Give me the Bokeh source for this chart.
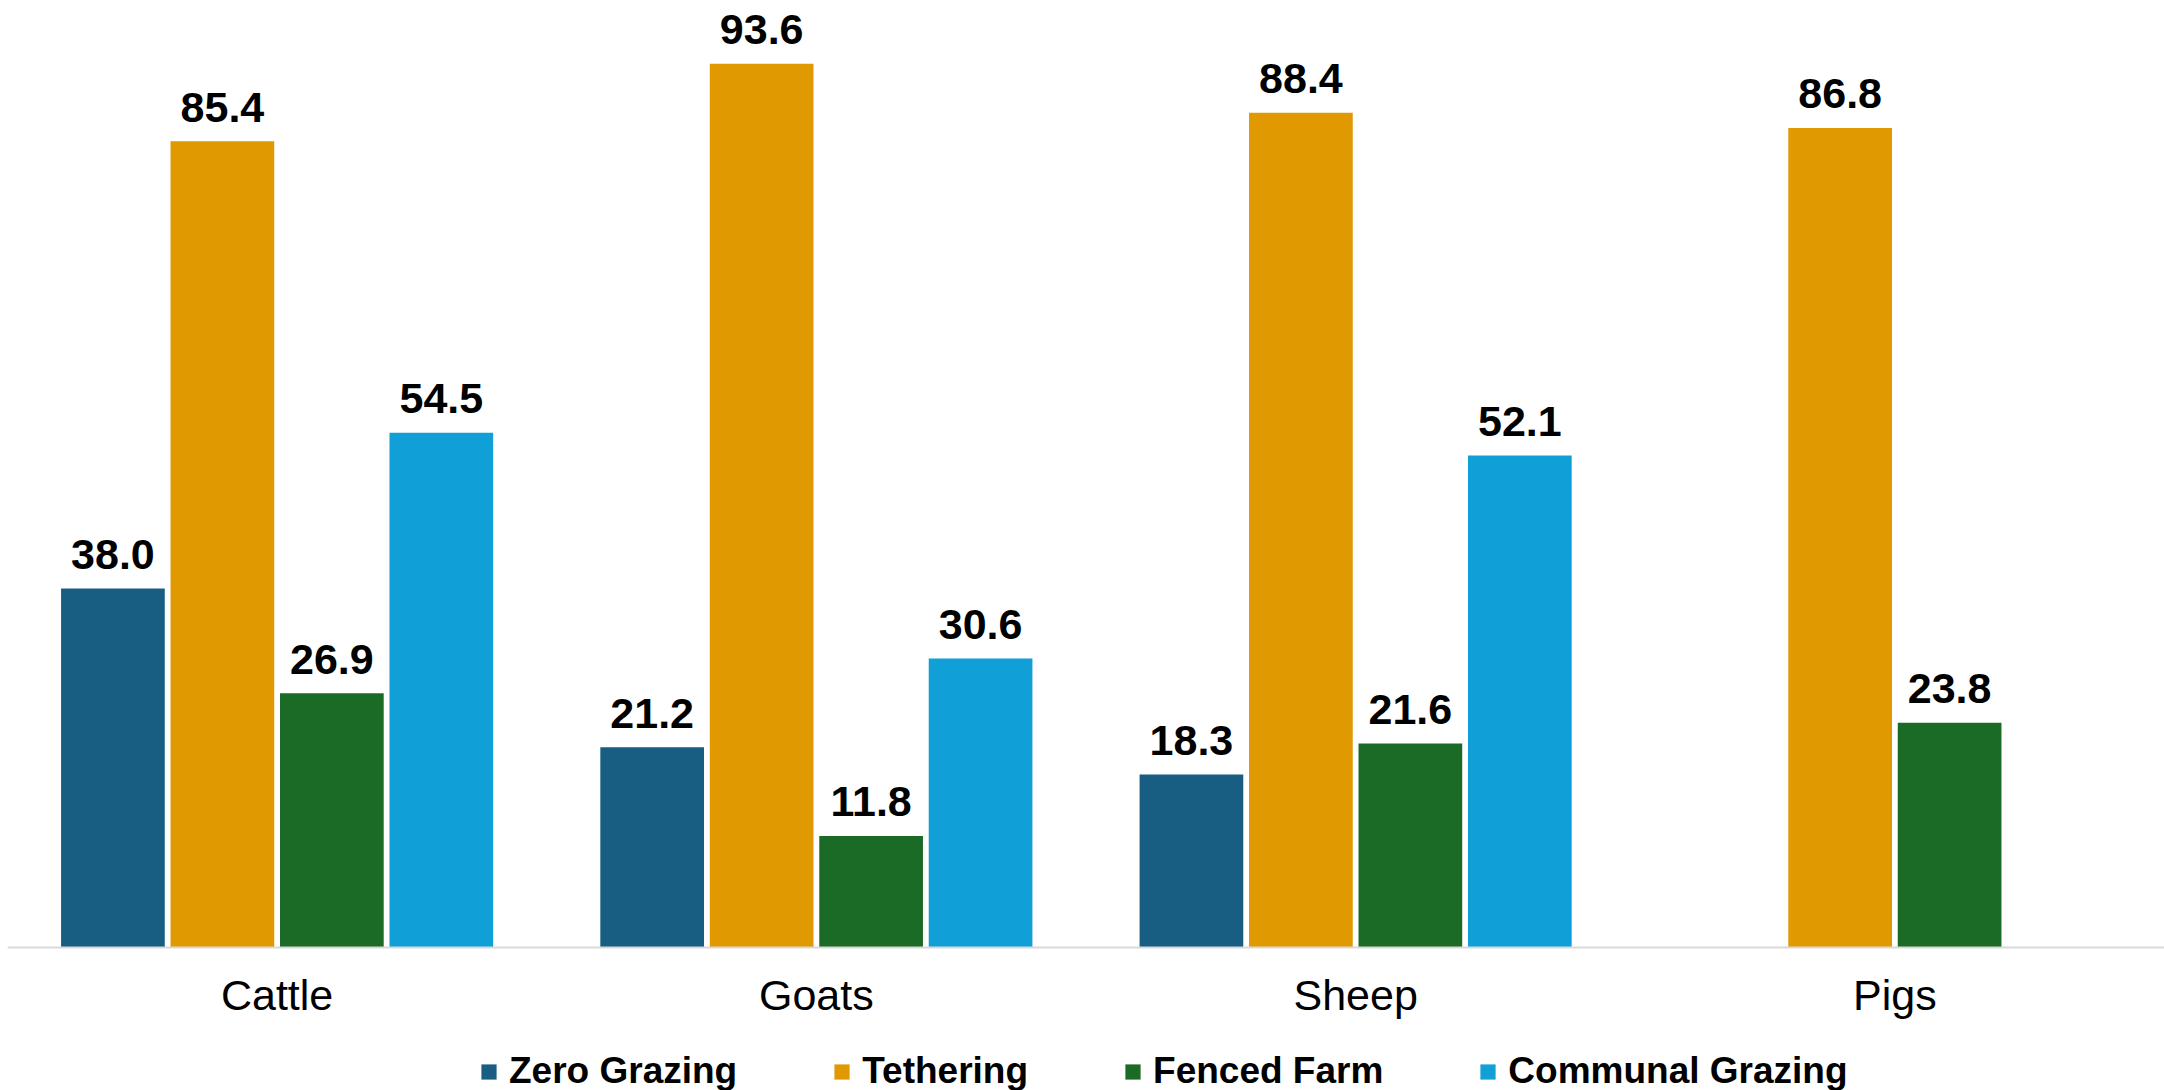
from bokeh.plotting import figure
from bokeh.models import ColumnDataSource, FactorRange, Range1d, Legend, LegendItem
from bokeh.transform import dodge
from bokeh.core.properties import value
from bokeh.embed import file_html
from bokeh.resources import INLINE

categories = ["Cattle", "Goats", "Sheep", "Pigs"]
series_names = ["Zero Grazing", "Tethering", "Fenced Farm", "Communal Grazing"]
zero_grazing = [38.0, 21.2, 18.3, None]
tethering = [85.4, 93.6, 88.4, 86.8]
fenced_farm = [26.9, 11.8, 21.6, 23.8]
communal_grazing = [54.5, 30.6, 52.1, None]

series_values = [zero_grazing, tethering, fenced_farm, communal_grazing]
colors = ["#175e82", "#e09900", "#1b6b26", "#119fd7"]
offsets = [-0.3045, -0.1015, 0.1015, 0.3045]
FONT = "Liberation Sans"

p = figure(
    x_range=FactorRange(factors=categories, range_padding=0),
    y_range=Range1d(-15.17, 100.3),
    width=2164, height=1090,
    output_backend="svg", toolbar_location=None,
    y_axis_location=None,
    min_border_left=7, min_border_right=0, min_border_top=0, min_border_bottom=0,
    outline_line_color=None,
)
p.xgrid.visible = False
p.ygrid.visible = False

items = []
for name, vals, col, off in zip(series_names, series_values, colors, offsets):
    cats = [c for c, v in zip(categories, vals) if v is not None]
    vs = [v for v in vals if v is not None]
    src = ColumnDataSource(dict(cat=cats, val=vs, lab=[f"{v:.1f}" for v in vs]))
    r = p.vbar(x=dodge("cat", off, range=p.x_range), top="val", bottom=0, width=0.1923,
               source=src, fill_color=col, line_color=None)
    p.text(x=dodge("cat", off, range=p.x_range), y="val", text="lab", source=src,
           text_align="center", text_baseline="alphabetic", y_offset=-34,
           text_font=value(FONT), text_font_style="bold", text_font_size="43px",
           text_color="black")
    items.append(LegendItem(label=name, renderers=[r]))

ax = p.xaxis[0]
ax.fixed_location = 0
ax.axis_line_color = "#d9d9d9"
ax.axis_line_width = 2
ax.major_tick_line_color = None
ax.minor_tick_line_color = None
ax.major_label_text_font = FONT
ax.major_label_text_font_size = "43px"
ax.major_label_text_color = "black"
ax.major_label_standoff = 18

legend = Legend(items=items, orientation="horizontal", location=(472, -2),
                border_line_color=None, background_fill_alpha=0,
                label_text_font=FONT, label_text_font_size="37px",
                label_text_font_style="bold", label_text_color="black",
                glyph_width=19, glyph_height=19, label_standoff=11,
                spacing=95, padding=0, margin=0)
p.add_layout(legend, "center")

open("out.html", "w").write(file_html(p, INLINE))
